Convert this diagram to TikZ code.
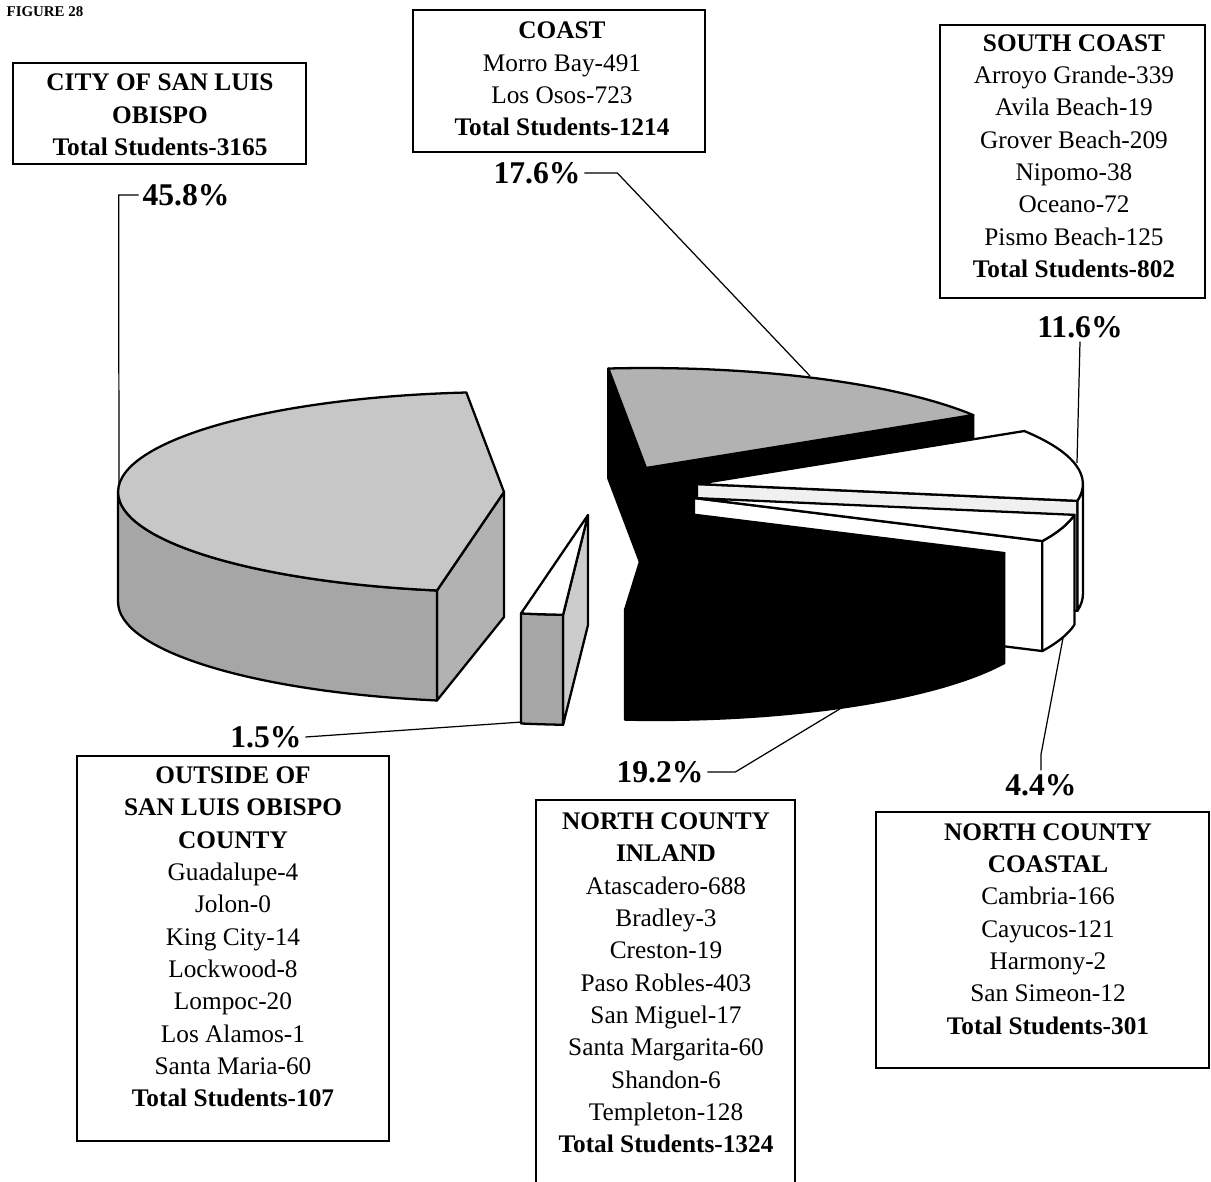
\documentclass[tikz,border=0pt]{standalone}
\usepackage{fontspec}
\setmainfont{Liberation Serif}
\usepackage{tikz}

\begin{document}
\begin{tikzpicture}[x=0.02cm,y=0.02cm]
		\tikzstyle{pie}=[x radius=7.72cm,y radius=2cm]
		\tikzstyle{face}=[draw,line width=1.3pt,line join=round]
		\tikzstyle{frame}=[draw,line width=1.1pt]
		\tikzstyle{txt}=[align=center,inner sep=0pt,font=\fontsize{14.4}{18.4}\selectfont]
		\tikzstyle{pct}=[inner sep=2pt,font=\fontsize{18}{21}\selectfont\bfseries]
		\tikzstyle{lead}=[line width=0.7pt]
		\useasboundingbox (0,0) rectangle (1211,-1181);

		\begin{scope}[shift={(646,-468)}]
		\draw[face,fill=black] (0,0) -- (32:7.72cm and 2cm) -- ++(0,-110) -- (0,-110) -- cycle;
		\draw[face,fill=black] (0,0) -- (95.6:7.72cm and 2cm) -- ++(0,-110) -- (0,-110) -- cycle;
		\draw[face,fill=black!30] (0,0) -- (32:7.72cm and 2cm) arc[pie,start angle=32,end angle=95.6] -- cycle;
		\end{scope}

		\begin{scope}[shift={(697,-484)}]
		\draw[face,fill=black!6] (0,0) -- (-9.7:7.72cm and 2cm) -- ++(0,-110) -- (0,-110) -- cycle;
		\draw[face,fill=white] (-9.7:7.72cm and 2cm) arc[pie,start angle=-9.7,end angle=0] -- ++(0,-110) arc[pie,start angle=0,end angle=-9.7] -- cycle;
		\draw[face,fill=white] (0,0) -- (-9.7:7.72cm and 2cm) arc[pie,start angle=-9.7,end angle=32] -- cycle;
		\end{scope}

		\begin{scope}[shift={(694,-498)}]
		\draw[face,fill=white] (0,0) -- (334.5:7.72cm and 2cm) -- ++(0,-110) -- (0,-110) -- cycle;
		\draw[face,fill=white] (334.5:7.72cm and 2cm) arc[pie,start angle=334.5,end angle=350.3] -- ++(0,-110) arc[pie,start angle=350.3,end angle=334.5] -- cycle;
		\draw[face,fill=white] (0,0) -- (334.5:7.72cm and 2cm) arc[pie,start angle=334.5,end angle=350.3] -- cycle;
		\end{scope}

		\begin{scope}[shift={(656,-510)}]
		\draw[face,fill=black] (265.4:7.72cm and 2cm) arc[pie,start angle=265.4,end angle=334.5] -- ++(0,-110) arc[pie,start angle=334.5,end angle=265.4] -- cycle;
		\draw[face,fill=black] (0,0) -- (265.4:7.72cm and 2cm) arc[pie,start angle=265.4,end angle=334.5] -- cycle;
		\end{scope}

		\begin{scope}[shift={(504,-492)}]
		\draw[face,fill=black!30] (0,0) -- (260:7.72cm and 2cm) -- ++(0,-110) -- (0,-125) -- cycle;
		\draw[face,fill=black!35] (180:7.72cm and 2cm) arc[pie,start angle=180,end angle=260] -- ++(0,-110) arc[pie,start angle=260,end angle=180] -- cycle;
		\draw[face,fill=black!22] (0,0) -- (95.6:7.72cm and 2cm) arc[pie,start angle=95.6,end angle=260] -- cycle;
		\end{scope}

		\begin{scope}[shift={(588,-515)}]
		\draw[face,fill=black!20] (0,0) -- (266.3:7.72cm and 2cm) -- ++(0,-110) -- (0,-110) -- cycle;
		\draw[face,fill=black!35] (260:7.72cm and 2cm) arc[pie,start angle=260,end angle=266.3] -- ++(0,-110) arc[pie,start angle=266.3,end angle=260] -- cycle;
		\draw[face,fill=white] (0,0) -- (260:7.72cm and 2cm) arc[pie,start angle=260,end angle=266.3] -- cycle;
		\end{scope}

		\node[font=\fontsize{8.5}{10}\selectfont\bfseries,inner sep=0pt] (fig) at (45,-12) {FIGURE 28};

		\draw[frame] (13,-63) rectangle (306,-164);
		\node[txt,font=\fontsize{14.4}{18.4}\selectfont\bfseries] (slo) at (160,-115) {CITY OF SAN LUIS\\OBISPO\\Total Students-3165};

		\draw[frame] (413,-10) rectangle (705,-152);
		\node[txt] (coast) at (562,-79) {\textbf{COAST}\\Morro Bay-491\\Los Osos-723\\\textbf{Total Students-1214}};

		\draw[frame] (940,-25) rectangle (1205,-298);
		\node[txt] (south) at (1074,-156) {\textbf{SOUTH COAST}\\Arroyo Grande-339\\Avila Beach-19\\Grover Beach-209\\Nipomo-38\\Oceano-72\\Pismo Beach-125\\\textbf{Total Students-802}};

		\draw[frame] (77,-756) rectangle (389,-1141);
		\node[txt] (outside) at (233,-937) {\textbf{OUTSIDE OF}\\\textbf{SAN LUIS OBISPO}\\\textbf{COUNTY}\\Guadalupe-4\\Jolon-0\\King City-14\\Lockwood-8\\Lompoc-20\\Los Alamos-1\\Santa Maria-60\\\textbf{Total Students-107}};

		\draw[frame] (536,-1190) -- (536,-800) -- (795,-800) -- (795,-1190);
		\node[txt] (inland) at (666,-983) {\textbf{NORTH COUNTY}\\\textbf{INLAND}\\Atascadero-688\\Bradley-3\\Creston-19\\Paso Robles-403\\San Miguel-17\\Santa Margarita-60\\Shandon-6\\Templeton-128\\\textbf{Total Students-1324}};

		\draw[frame] (876,-812) rectangle (1209,-1068);
		\node[txt] (coastal) at (1048,-929) {\textbf{NORTH COUNTY}\\\textbf{COASTAL}\\Cambria-166\\Cayucos-121\\Harmony-2\\San Simeon-12\\\textbf{Total Students-301}};

		\node[pct] (p458) at (186,-195) {45.8\%};
		\node[pct] (p176) at (537,-173) {17.6\%};
		\node[pct] (p116) at (1080,-327) {11.6\%};
		\node[pct] (p15) at (266,-737) {1.5\%};
		\node[pct] (p192) at (660,-772) {19.2\%};
		\node[pct] (p44) at (1041,-785) {4.4\%};

		\coordinate (e458) at (119,-487);
		\coordinate (e176) at (810,-376);
		\coordinate (e116) at (1077,-463);
		\coordinate (e15) at (522,-722);
		\coordinate (e192) at (843,-707);
		\coordinate (e44) at (1063,-638);

		\draw[lead] (p458.west) -- ++(-20,0) -- (e458);
		\draw[lead] (p176.east) -- ++(33,0) -- (e176);
		\draw[lead] (p116.south) -- (e116);
		\draw[lead] (p15.east) -- (e15);
		\draw[lead] (p192.east) -- ++(28,0) -- (e192);
		\draw[lead] (p44.north) -- ++(0,16) -- (e44);
\end{tikzpicture}
\end{document}
